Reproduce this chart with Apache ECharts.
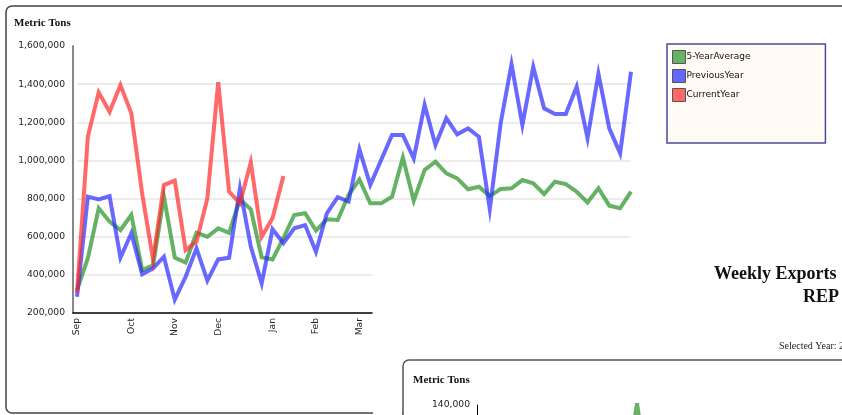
<!DOCTYPE html>
<html>
<head>
<meta charset="utf-8">
<script src="https://cdn.jsdelivr.net/npm/echarts@6/dist/echarts.min.js"></script>
<style>
html,body{margin:0;padding:0;background:#fff;}
#chart{width:842px;height:415px;}
</style>
</head>
<body>
<div id="chart"></div>
<script>
// ---- data ----
const weeks = Array.from({length: 52}, (_, i) => 'Week ' + (i + 1));
const monthTicks = {0: 'Sep', 5: 'Oct', 9: 'Nov', 13: 'Dec', 18: 'Jan', 22: 'Feb', 26: 'Mar'};
const seriesNames = ['5-YearAverage', 'PreviousYear', 'CurrentYear'];

const fiveYearAverage = [
  320000, 487000, 749000, 679000, 635000, 714000, 425000, 450000, 810000, 490000,
  464000, 621000, 600000, 644000, 620000, 796000, 744000, 492000, 481000, 592000,
  714000, 723000, 632000, 691000, 688000, 819000, 900000, 775000, 775000, 810000,
  1015000, 789000, 950000, 993000, 932000, 906000, 849000, 862000, 813000, 850000,
  854000, 897000, 880000, 824000, 888000, 876000, 836000, 780000, 854000, 763000,
  749000, 836000
];
const previousYear = [
  285000, 810000, 796000, 813000, 490000, 618000, 403000, 434000, 495000, 270000,
  390000, 539000, 370000, 481000, 490000, 854000, 548000, 355000, 639000, 566000,
  644000, 661000, 521000, 723000, 807000, 784000, 1058000, 871000, 1002000, 1133000,
  1133000, 1011000, 1291000, 1081000, 1221000, 1137000, 1168000, 1124000, 745000, 1195000,
  1505000, 1186000, 1490000, 1273000, 1243000, 1243000, 1387000, 1116000, 1455000, 1168000,
  1037000, 1465000
];
const currentYear = [
  305000, 1125000, 1357000, 1255000, 1395000, 1247000, 825000, 480000, 871000, 894000,
  530000, 574000, 801000, 1410000, 836000, 775000, 990000, 600000, 697000, 918000
];
// second (lower) chart, mostly outside the visible window
const lowerChartAverage = [
  60000, 72000, 58000, 65000, 80000, 70000, 62000, 75000, 68000, 71000,
  66000, 73000, 69000, 77000, 64000, 70000, 74000, 67000, 72000, 78000,
  80000, 95000, 141500, 90000, 76000, 70000
];

// ---- chart ----
const T = 'rgba(0,0,0,0)', G = '#e6e6e6';
const chart = echarts.init(document.getElementById('chart'), null, {renderer: 'canvas'});
const fmt = v => Number(v).toLocaleString('en-US');
const labelFont = {fontFamily: 'DejaVu Sans', fontSize: 9.2, color: '#222'};

chart.setOption({
  backgroundColor: '#fff',
  animation: false,
  graphic: [
    {type: 'rect', shape: {x: 6, y: 6, width: 1000, height: 407, r: 6}, style: {fill: 'none', stroke: '#444', lineWidth: 1.5}},
    {type: 'rect', shape: {x: 373, y: 398, width: 29, height: 20}, style: {fill: '#fff'}},
    {type: 'rect', shape: {x: 403, y: 360, width: 600, height: 120, r: 6}, style: {fill: '#fff', stroke: '#555', lineWidth: 1.5}},
    {type: 'text', x: 14, y: 23, style: {text: 'Metric Tons', font: 'bold 11px "Liberation Serif"', fill: '#111', verticalAlign: 'middle'}},
    {type: 'text', x: 714, y: 274, style: {text: 'Weekly Exports', font: 'bold 18px "Liberation Serif"', fill: '#111', verticalAlign: 'middle'}},
    {type: 'text', x: 803, y: 297, style: {text: 'REP', font: 'bold 18px "Liberation Serif"', fill: '#111', verticalAlign: 'middle'}},
    {type: 'text', x: 779, y: 346, style: {text: 'Selected Year: 2', font: '10px "Liberation Serif"', fill: '#222', verticalAlign: 'middle'}},
    {type: 'text', x: 413, y: 380, style: {text: 'Metric Tons', font: 'bold 11px "Liberation Serif"', fill: '#111', verticalAlign: 'middle'}}
  ],
  legend: {
    data: seriesNames,
    orient: 'vertical',
    left: 667, top: 44,
    padding: [6, 75, 41, 5],
    itemWidth: 13, itemHeight: 13, itemGap: 5,
    icon: 'rect',
    backgroundColor: '#fffbf4',
    borderColor: '#4b4b9b', borderWidth: 1.5, borderRadius: 0,
    itemStyle: {borderColor: '#555', borderWidth: 1},
    textStyle: {fontFamily: 'DejaVu Sans', fontSize: 9, color: '#111', padding: [0, 0, 0, -4]},
    selectedMode: false
  },
  grid: [
    {left: 77, right: 211, top: 46, bottom: 102, outerBoundsMode: 'none'},
    {left: 73, width: 299, top: 46, bottom: 102, outerBoundsMode: 'none'},
    {left: 477, top: 405, width: 371, height: 140, outerBoundsMode: 'none', containLabel: false}
  ],
  xAxis: [
    {gridIndex: 0, type: 'category', data: weeks, boundaryGap: false,
     axisLine: {show: false}, axisTick: {show: false}, splitLine: {show: false},
     axisLabel: Object.assign({
       interval: (i) => monthTicks[i] !== undefined,
       formatter: (v, i) => monthTicks[i] || '',
       rotate: 90, margin: 5
     }, labelFont)},
    {gridIndex: 1, type: 'value', min: 0, max: 1,
     axisLine: {show: true, onZero: false, lineStyle: {color: '#000', width: 1.5}},
     axisTick: {show: false}, axisLabel: {show: false}, splitLine: {show: false}},
    {gridIndex: 2, type: 'category', data: weeks, boundaryGap: false, show: false}
  ],
  yAxis: [
    {gridIndex: 0, type: 'value', min: 200000, max: 1600000, interval: 200000,
     axisLine: {show: false}, axisTick: {show: false}, axisLabel: {show: false},
     splitLine: {show: true, showMinLine: true, showMaxLine: true, lineStyle: {color: [T, T, G, G, G, G, G, T], width: 1.5}}},
    {gridIndex: 1, type: 'value', min: 200000, max: 1600000, interval: 200000,
     axisLine: {show: true, lineStyle: {color: '#888', width: 2}}, axisTick: {show: false},
     axisLabel: Object.assign({formatter: fmt, margin: 8}, labelFont),
     splitLine: {show: true, showMinLine: true, showMaxLine: true, lineStyle: {color: [T, G, T, T, T, T, T, T], width: 1.5}}},
    {gridIndex: 2, type: 'value', min: 0, max: 140000, interval: 20000,
     axisLine: {show: true, lineStyle: {color: '#000', width: 1}}, axisTick: {show: false},
     axisLabel: Object.assign({formatter: fmt, margin: 7}, labelFont),
     splitLine: {show: false}}
  ],
  series: [
    {name: seriesNames[0], type: 'line', xAxisIndex: 0, yAxisIndex: 0, data: fiveYearAverage,
     showSymbol: false, symbol: 'none', itemStyle: {color: '#66b266'},
     lineStyle: {color: '#249124', opacity: 0.7, width: 4, join: 'miter'}, z: 2},
    {name: seriesNames[1], type: 'line', xAxisIndex: 0, yAxisIndex: 0, data: previousYear,
     showSymbol: false, symbol: 'none', itemStyle: {color: '#6666ff'},
     lineStyle: {color: '#2a2aff', opacity: 0.7, width: 4, join: 'miter'}, z: 3},
    {name: seriesNames[2], type: 'line', xAxisIndex: 0, yAxisIndex: 0, data: currentYear,
     showSymbol: false, symbol: 'none', itemStyle: {color: '#ff6666'},
     lineStyle: {color: '#ff2a2a', opacity: 0.7, width: 4, join: 'miter'}, z: 4},
    {name: 'lower', type: 'line', xAxisIndex: 2, yAxisIndex: 2, data: lowerChartAverage,
     showSymbol: false, symbol: 'none', itemStyle: {color: '#66b266'},
     lineStyle: {color: '#249124', opacity: 0.7, width: 4, join: 'miter'}, z: 2}
  ]
});
</script>
</body>
</html>
